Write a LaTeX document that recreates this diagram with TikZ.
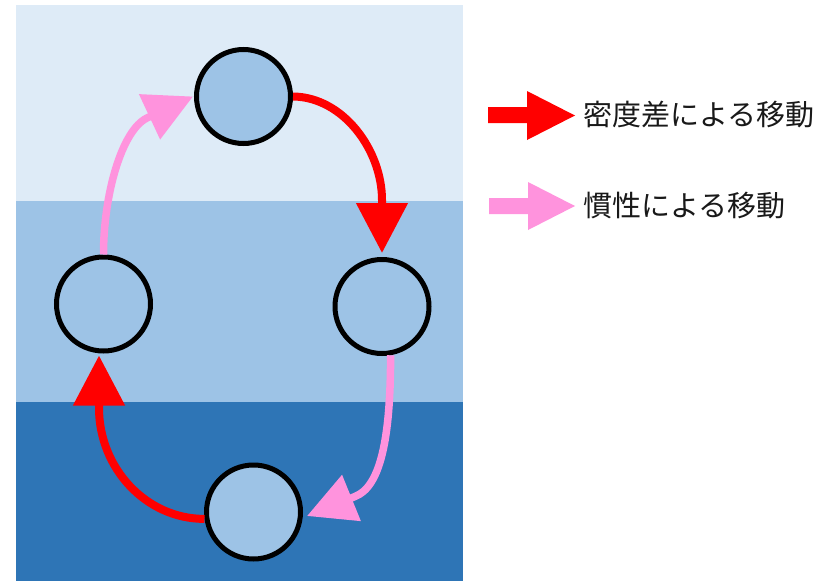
\documentclass[tikz,border=0pt]{standalone}
\usepackage{fontspec}
\newfontfamily\jpfont{Noto Sans CJK JP}
\usetikzlibrary{arrows.meta}
\definecolor{bandlight}{HTML}{DEEBF7}
\definecolor{bandmid}{HTML}{9DC3E6}
\definecolor{banddark}{HTML}{2E75B6}
\definecolor{pinkarrow}{HTML}{FF93DD}
\definecolor{redarrow}{HTML}{FF0000}
\begin{document}
\begin{tikzpicture}[x=1pt,y=-1pt,
  parcel/.style={circle,draw=black,line width=5pt,fill=bandmid,minimum size=94pt,inner sep=0pt},
  dens/.style={draw=redarrow,line width=8pt,-{Triangle[length=50pt,width=50pt]}},
  iner/.style={draw=pinkarrow,line width=7.5pt,-{Triangle[length=48pt,width=48pt]}},
  legtext/.style={anchor=west,inner sep=0pt,text=black!90,font=\jpfont\fontsize{29pt}{29pt}\selectfont}]
\useasboundingbox (0,0) rectangle (835,581);
% water layers
\fill[bandlight] (16,5) rectangle (463,201);
\fill[bandmid] (16,201) rectangle (463,402);
\fill[banddark] (16,402) rectangle (463,581);
% parcels
\node[parcel] (top) at (243.5,96.5) {};
\node[parcel] (right) at (382,306.5) {};
\node[parcel] (left) at (103.5,304) {};
\node[parcel] (bottom) at (253.5,512) {};
% density-driven motion
\draw[dens] (top.east) .. controls (343,97) and (382,150) .. (382,200) -- ([yshift=4pt]right.north);
\draw[dens] (bottom.188) .. controls (146,519) and (99,468) .. (99,408) -- ([xshift=-4.5pt,yshift=-2pt]left.south);
% inertial motion
\draw[iner] (left.north) .. controls (103.5,194) and (122,130) .. (147,118) -- ([xshift=-1pt]top.west);
\draw[iner] (right.280) .. controls (390.6,440) and (380,487) .. (355,496.5) -- ([xshift=4pt,yshift=-4pt]bottom.east);
% legend
\fill[redarrow] (488,107) -- (527,107) -- (527,91) -- (575,115.5) -- (527,140) -- (527,123) -- (488,123) -- cycle;
\fill[pinkarrow] (489,198) -- (528,198) -- (528,182) -- (575,206) -- (528,230) -- (528,214) -- (489,214) -- cycle;
\node[legtext] (l1) at (583,115) {密度差による移動};
\node[legtext] (l2) at (583,206) {慣性による移動};
\end{tikzpicture}
\end{document}
